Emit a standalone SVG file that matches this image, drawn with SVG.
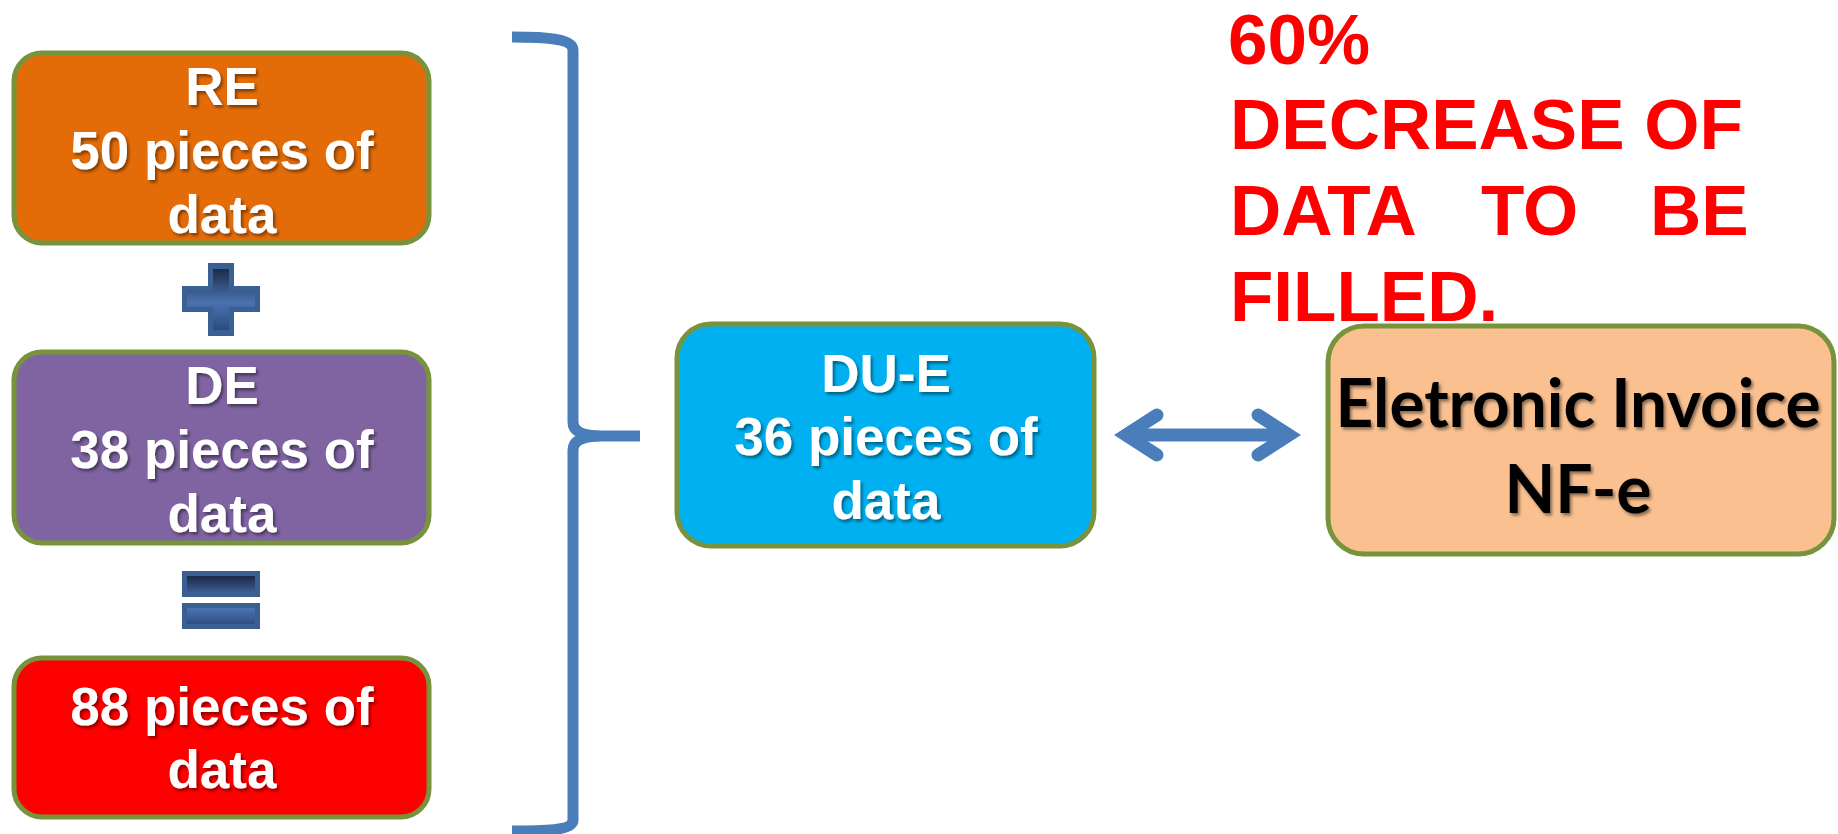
<svg xmlns="http://www.w3.org/2000/svg" width="1838" height="834" viewBox="0 0 1838 834">
  <defs>
    <filter id="sh" x="-10%" y="-10%" width="130%" height="140%">
      <feDropShadow dx="2" dy="2.5" stdDeviation="1.5" flood-color="#000" flood-opacity="0.45"/>
    </filter>
    <linearGradient id="gPlusV" x1="0" y1="0" x2="0" y2="1">
      <stop offset="0" stop-color="#1B2C48"/>
      <stop offset="0.55" stop-color="#4A72B0"/>
      <stop offset="1" stop-color="#2C4C80"/>
    </linearGradient>
    <linearGradient id="gEqTop" x1="0" y1="0" x2="0" y2="1">
      <stop offset="0" stop-color="#1A2944"/>
      <stop offset="1" stop-color="#3A5B92"/>
    </linearGradient>
    <linearGradient id="gEqBot" x1="0" y1="0" x2="0" y2="1">
      <stop offset="0" stop-color="#4C74B2"/>
      <stop offset="1" stop-color="#2E4F86"/>
    </linearGradient>
  </defs>
  <style>
    .box { stroke: #77933C; stroke-width: 5; }
    .wt { font-family: "Liberation Sans", Arial, sans-serif; font-weight: bold; font-size: 53px; fill: #FFFFFF; text-anchor: middle; filter: url(#sh); }
    .bt { font-family: Lato, "Open Sans", sans-serif; font-weight: bold; font-size: 66px; fill: #000000; text-anchor: middle; filter: url(#sh); }
    .rt { font-family: "Liberation Sans", Arial, sans-serif; font-weight: bold; font-size: 71px; fill: #FF0000; }
    .blue { stroke: #4A7EBB; fill: none; }
  </style>
  <rect width="1838" height="834" fill="#FFFFFF"/>

  <g id="node-re">
    <rect class="box" x="14" y="53" width="415" height="190" rx="28" fill="#E36C09"/>
    <text class="wt" x="222" y="105">RE</text>
    <text class="wt" x="222" y="169">50 pieces of</text>
    <text class="wt" x="222" y="233">data</text>
  </g>

  <g id="op-plus">
    <path d="M208,263 H234 V286 H260 V312 H234 V336 H208 V312 H182 V286 H208 Z" fill="#3A5F93"/>
    <path d="M213,269 H229 V291 H255 V307 H229 V330 H213 V307 H187 V291 H213 Z" fill="url(#gPlusV)"/>
  </g>

  <g id="node-de">
    <rect class="box" x="14" y="352" width="415" height="191" rx="28" fill="#8064A2"/>
    <text class="wt" x="222" y="404">DE</text>
    <text class="wt" x="222" y="468">38 pieces of</text>
    <text class="wt" x="222" y="532">data</text>
  </g>

  <g id="op-equals">
    <rect x="182" y="571" width="78" height="26" fill="#3A5F93"/>
    <rect x="187" y="576" width="68" height="16" fill="url(#gEqTop)"/>
    <rect x="182" y="603" width="78" height="26" fill="#3A5F93"/>
    <rect x="187" y="608" width="68" height="16" fill="url(#gEqBot)"/>
  </g>

  <g id="node-total">
    <rect class="box" x="14" y="658" width="415" height="159" rx="28" fill="#FF0000"/>
    <text class="wt" x="222" y="725">88 pieces of</text>
    <text class="wt" x="222" y="788">data</text>
  </g>

  <g id="node-due">
    <rect class="box" x="677" y="324" width="417" height="222" rx="34" fill="#00B0F0"/>
    <text class="wt" x="886" y="392">DU-E</text>
    <text class="wt" x="886" y="455">36 pieces of</text>
    <text class="wt" x="886" y="519">data</text>
  </g>

  <g id="node-nfe">
    <rect class="box" x="1328" y="326" width="506" height="228" rx="36" fill="#FAC090"/>
    <text class="bt" x="1578" y="427" textLength="485" lengthAdjust="spacingAndGlyphs">Eletronic Invoice</text>
    <text class="bt" x="1578" y="513">NF-e</text>
  </g>

  <g id="note">
    <text class="rt" x="1228" y="64">60%</text>
    <text class="rt" x="1230" y="149">DECREASE OF</text>
    <text class="rt" y="235"><tspan x="1230">DATA</tspan><tspan x="1481">TO</tspan><tspan x="1650">BE</tspan></text>
    <text class="rt" x="1230" y="321">FILLED.</text>
  </g>

  <g id="connectors">
    <path class="blue" stroke-width="11" stroke-linejoin="round" d="M512,37 C548,37 573,39 573,50 L573,422 C573,431 582,436 602,436 L640,436 M602,436 C582,436 573,441 573,450 L573,820 C573,830 548,831 512,831"/>
    <path class="blue" stroke-width="13" stroke-linecap="round" stroke-linejoin="miter" d="M1157,415 L1126,435 L1157,455"/>
    <path class="blue" stroke-width="13" stroke-linecap="round" stroke-linejoin="miter" d="M1258,415 L1289,435 L1258,455"/>
    <path class="blue" stroke-width="13" d="M1128,435 H1287"/>
  </g>
</svg>
